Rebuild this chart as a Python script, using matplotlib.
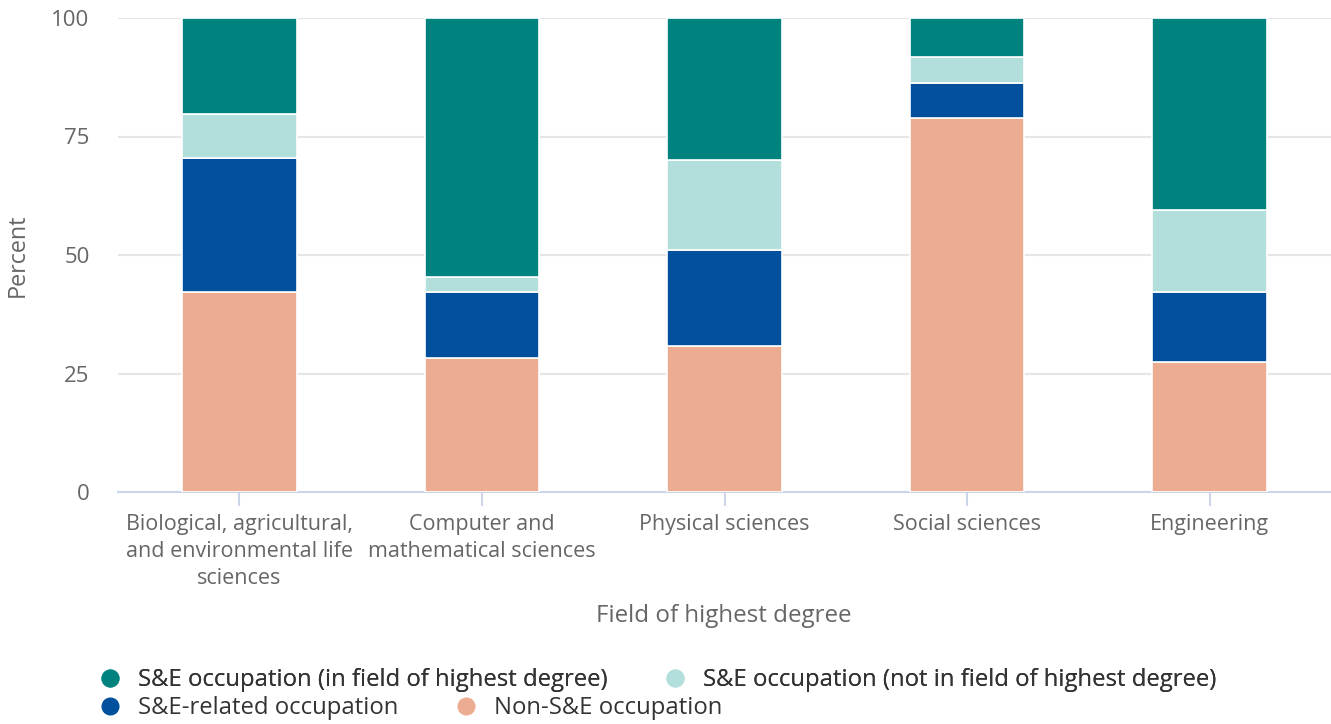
import matplotlib
matplotlib.use('Agg')
import matplotlib.pyplot as plt
from matplotlib.lines import Line2D
import numpy as np

# --------------------------------------------------------------------------------
# Data (percent of degree holders by occupation)
sCategories = ['Biological, agricultural,\nand environmental life\nsciences',
               'Computer and\nmathematical sciences',
               'Physical sciences',
               'Social sciences',
               'Engineering']
a1dNonSE = [42.2, 28.3, 30.8, 78.9, 27.4]
a1dRelated = [28.3, 13.9, 20.3, 7.4, 14.8]
a1dNotInField = [9.2, 3.2, 18.9, 5.5, 17.3]
a1dInField = [20.3, 54.6, 30.0, 8.2, 40.5]
sSeriesNames = ['Non-S&E occupation', 'S&E-related occupation',
                'S&E occupation (not in field of highest degree)',
                'S&E occupation (in field of highest degree)']
sColors = ['#ecac91', '#00509d', '#b2dedb', '#00837e']
# --------------------------------------------------------------------------------

plt.rcParams['font.family'] = ['Open Sans', 'DejaVu Sans']

oFig = plt.figure(figsize=(13.31, 7.24), dpi=100)
oAx = oFig.add_axes([118 / 1331, 1 - 492 / 724, 1 - 118 / 1331, 474 / 724])

# --------------------------------------------------------------------------------
# Stacked bars
a1iX = np.arange(len(sCategories))
a1dBottom = np.zeros(len(sCategories))
for a1dVal, sName, sCol in zip([a1dNonSE, a1dRelated, a1dNotInField, a1dInField],
                               sSeriesNames, sColors):
    oAx.bar(a1iX, a1dVal, bottom=a1dBottom, width=0.472, color=sCol,
            edgecolor='white', linewidth=1.2, zorder=3, label=sName)
    a1dBottom = a1dBottom + np.array(a1dVal)
# --------------------------------------------------------------------------------

# --------------------------------------------------------------------------------
# Axes style
oAx.set_xlim(-0.5, len(sCategories) - 0.5)
oAx.set_ylim(0, 100)
oAx.set_yticks([0, 25, 50, 75, 100])
oAx.yaxis.grid(True, color='#e6e6e6', linewidth=1.5, zorder=0)
oAx.set_axisbelow(True)
for sSide in ['top', 'right', 'left']:
    oAx.spines[sSide].set_visible(False)
oAx.spines['bottom'].set_color('#ccd6eb')
oAx.spines['bottom'].set_linewidth(1.5)
oAx.set_xticks(a1iX)
oAx.set_xticklabels(sCategories, fontsize=15.5, color='#666666', linespacing=1.38)
oAx.tick_params(axis='x', length=10, width=1.5, color='#ccd6eb', pad=6)
oAx.tick_params(axis='y', length=0, labelsize=16, labelcolor='#666666', pad=20.5)
oFig.text(18 / 1331, 1 - 255 / 724, 'Percent', fontsize=16.8, color='#666666',
          rotation=90, ha='center', va='center')
oFig.text(724 / 1331, 1 - 616 / 724, 'Field of highest degree', fontsize=17.4,
          color='#666666', ha='center', va='center')
# --------------------------------------------------------------------------------

# --------------------------------------------------------------------------------
# Legend (two rows, circle markers)
dLegFont = 17.2
def makeHandle(sCol):
    return Line2D([], [], linestyle='none', marker='o', markersize=12,
                  markerfacecolor=sCol, markeredgecolor=sCol)

oLegOpts = dict(ncol=2, frameon=False, fontsize=dLegFont, handlelength=0.75,
                handletextpad=0.8, columnspacing=2.45, borderpad=0, borderaxespad=0,
                labelcolor='#333333', loc='center left')
oLeg1 = oFig.legend([makeHandle(sColors[3]), makeHandle(sColors[2])],
                    [sSeriesNames[3], sSeriesNames[2]],
                    bbox_to_anchor=(101 / 1331, 1 - 680 / 724), **oLegOpts)
oFig.add_artist(oLeg1)
oLeg2 = oFig.legend([makeHandle(sColors[1]), makeHandle(sColors[0])],
                    [sSeriesNames[1], sSeriesNames[0]],
                    bbox_to_anchor=(101 / 1331, 1 - 708 / 724), **oLegOpts)
# --------------------------------------------------------------------------------

oFig.savefig('out.png', dpi=100)
